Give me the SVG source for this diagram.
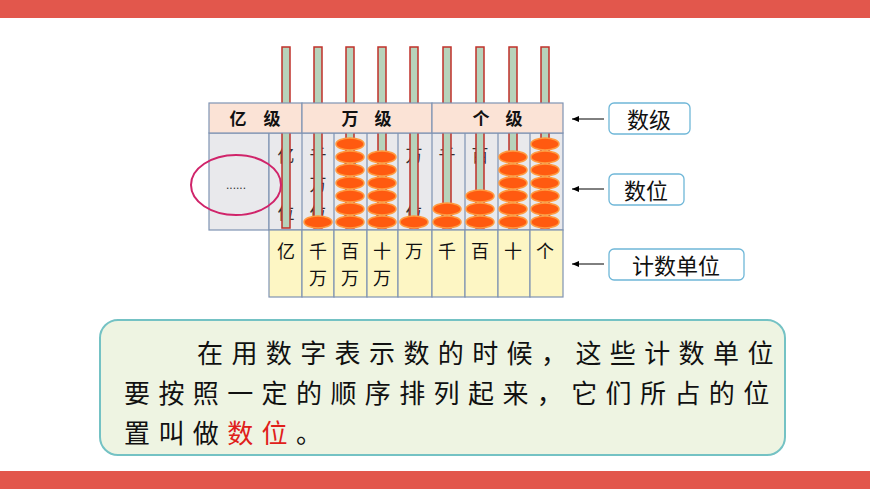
<svg xmlns="http://www.w3.org/2000/svg" width="870" height="489" viewBox="0 0 870 489">
<defs>
<style>
.hd{fill:#fbe3d6;stroke:#7f93b3;stroke-width:1.2}
.cell{fill:#e9e9ec;stroke:#7f93b3;stroke-width:1.2}
.yc{fill:#fdf6c4;stroke:#7f93b3;stroke-width:1.2}
.rod{fill:#b7d3bb;stroke:#c0302a;stroke-width:1.5}
.bead{fill:#ff5a10;stroke:#ff9a40;stroke-width:1.5}
.t{font-family:"Noto Sans CJK SC",sans-serif;fill:#111}
.ft{font-family:"Noto Sans CJK SC",sans-serif;fill:#333;font-size:17px;text-anchor:middle}
.lab{fill:#fff;stroke:#6fb7d8;stroke-width:1.3}
.ar{stroke:#000;stroke-width:1;marker-end:url(#ah)}
</style>
<marker id="ah" markerWidth="8" markerHeight="8" refX="7" refY="4" orient="auto" markerUnits="userSpaceOnUse"><path d="M0,1 L7,4 L0,7 Z" fill="#000"/></marker>
</defs>
<rect width="870" height="489" fill="#fff"/>
<rect x="0" y="0" width="870" height="18" fill="#e2574c"/>
<rect x="0" y="471" width="870" height="18" fill="#e2574c"/>
<g id="abacus">
<rect class="cell" x="209" y="133" width="60" height="97"/>
<rect class="cell" x="269" y="133" width="294" height="97"/>
<g fill="none" stroke="#7f93b3" stroke-width="1.2">
<path d="M302 133V230M334 133V230M367 133V230M398 133V230M432 133V230M465 133V230M498 133V230M530 133V230"/>
</g>
<g class="ft">
<text x="286" y="162">亿</text><text x="286" y="219">位</text>
<text x="318" y="162">千</text><text x="318" y="191">万</text><text x="318" y="219">位</text>
<text x="350" y="162">百</text><text x="350" y="219">位</text>
<text x="382" y="162">十</text><text x="382" y="219">位</text>
<text x="414" y="162">万</text><text x="414" y="219">位</text>
<text x="447" y="162">千</text><text x="447" y="219">位</text>
<text x="480" y="162">百</text><text x="480" y="219">位</text>
<text x="513" y="162">十</text><text x="513" y="219">位</text>
<text x="545" y="162">个</text><text x="545" y="219">位</text>
</g>
<g>
<rect class="rod" x="282" y="47" width="8" height="181"/>
<rect class="rod" x="314" y="47" width="8" height="181"/>
<rect class="rod" x="346" y="47" width="8" height="181"/>
<rect class="rod" x="378" y="47" width="8" height="181"/>
<rect class="rod" x="410" y="47" width="8" height="181"/>
<rect class="rod" x="443" y="47" width="8" height="181"/>
<rect class="rod" x="476" y="47" width="8" height="181"/>
<rect class="rod" x="509" y="47" width="8" height="181"/>
<rect class="rod" x="541" y="47" width="8" height="181"/>
</g>
<rect class="hd" x="209" y="103" width="93" height="30"/>
<rect class="hd" x="302" y="103" width="130" height="30"/>
<rect class="hd" x="432" y="103" width="131" height="30"/>
<g class="t" font-size="17" text-anchor="middle" font-weight="bold">
<text x="238" y="125">亿</text><text x="272" y="125">级</text>
<text x="350" y="125">万</text><text x="383" y="125">级</text>
<text x="481" y="125">个</text><text x="514" y="125">级</text>
</g>
<g>
<ellipse class="bead" cx="318" cy="222" rx="14" ry="6"/>
<ellipse class="bead" cx="350" cy="222" rx="14" ry="6"/><ellipse class="bead" cx="350" cy="209" rx="14" ry="6"/><ellipse class="bead" cx="350" cy="196" rx="14" ry="6"/><ellipse class="bead" cx="350" cy="183" rx="14" ry="6"/><ellipse class="bead" cx="350" cy="170" rx="14" ry="6"/><ellipse class="bead" cx="350" cy="157" rx="14" ry="6"/><ellipse class="bead" cx="350" cy="144" rx="14" ry="6"/>
<ellipse class="bead" cx="382" cy="222" rx="14" ry="6"/><ellipse class="bead" cx="382" cy="209" rx="14" ry="6"/><ellipse class="bead" cx="382" cy="196" rx="14" ry="6"/><ellipse class="bead" cx="382" cy="183" rx="14" ry="6"/><ellipse class="bead" cx="382" cy="170" rx="14" ry="6"/><ellipse class="bead" cx="382" cy="157" rx="14" ry="6"/>
<ellipse class="bead" cx="414" cy="222" rx="14" ry="6"/>
<ellipse class="bead" cx="447" cy="222" rx="14" ry="6"/><ellipse class="bead" cx="447" cy="209" rx="14" ry="6"/>
<ellipse class="bead" cx="480" cy="222" rx="14" ry="6"/><ellipse class="bead" cx="480" cy="209" rx="14" ry="6"/><ellipse class="bead" cx="480" cy="196" rx="14" ry="6"/>
<ellipse class="bead" cx="513" cy="222" rx="14" ry="6"/><ellipse class="bead" cx="513" cy="209" rx="14" ry="6"/><ellipse class="bead" cx="513" cy="196" rx="14" ry="6"/><ellipse class="bead" cx="513" cy="183" rx="14" ry="6"/><ellipse class="bead" cx="513" cy="170" rx="14" ry="6"/><ellipse class="bead" cx="513" cy="157" rx="14" ry="6"/>
<ellipse class="bead" cx="545" cy="222" rx="14" ry="6"/><ellipse class="bead" cx="545" cy="209" rx="14" ry="6"/><ellipse class="bead" cx="545" cy="196" rx="14" ry="6"/><ellipse class="bead" cx="545" cy="183" rx="14" ry="6"/><ellipse class="bead" cx="545" cy="170" rx="14" ry="6"/><ellipse class="bead" cx="545" cy="157" rx="14" ry="6"/><ellipse class="bead" cx="545" cy="144" rx="14" ry="6"/>
</g>
<g>
<rect class="yc" x="269" y="230" width="33" height="67"/><rect class="yc" x="302" y="230" width="32" height="67"/><rect class="yc" x="334" y="230" width="33" height="67"/><rect class="yc" x="367" y="230" width="31" height="67"/><rect class="yc" x="398" y="230" width="34" height="67"/><rect class="yc" x="432" y="230" width="33" height="67"/><rect class="yc" x="465" y="230" width="33" height="67"/><rect class="yc" x="498" y="230" width="32" height="67"/><rect class="yc" x="530" y="230" width="33" height="67"/>
</g>
<g class="t" font-size="18" text-anchor="middle">
<text x="286" y="258">亿</text>
<text x="318" y="258">千</text><text x="318" y="285">万</text>
<text x="350" y="258">百</text><text x="350" y="285">万</text>
<text x="382" y="258">十</text><text x="382" y="285">万</text>
<text x="414" y="258">万</text><text x="447" y="258">千</text><text x="480" y="258">百</text><text x="513" y="258">十</text><text x="545" y="258">个</text>
</g>
<ellipse cx="236" cy="185" rx="45" ry="30" fill="none" stroke="#d0246a" stroke-width="2"/>
<text x="236" y="189" font-family="Liberation Sans,sans-serif" font-size="12" text-anchor="middle" fill="#333">......</text>
</g>
<g id="connectors">
<line class="ar" x1="604" y1="119" x2="572" y2="119"/>
<line class="ar" x1="604" y1="189" x2="572" y2="189"/>
<line class="ar" x1="604" y1="264" x2="572" y2="264"/>
</g>
<g id="n-shuji"><rect class="lab" x="609" y="103" width="81" height="31" rx="5"/><text class="t" x="649" y="128" font-size="22" text-anchor="middle">数级</text></g>
<g id="n-shuwei"><rect class="lab" x="609" y="174" width="75" height="31" rx="5"/><text class="t" x="646" y="199" font-size="22" text-anchor="middle">数位</text></g>
<g id="n-jishu"><rect class="lab" x="609" y="249" width="135" height="31" rx="5"/><text class="t" x="676" y="274" font-size="22" text-anchor="middle">计数单位</text></g>
<g id="textbox">
<rect x="100" y="320" width="685" height="135" rx="18" fill="#eef4e2" stroke="#74c2c4" stroke-width="2"/>
<g class="t" font-size="26" letter-spacing="8.4">
<text x="197" y="363">在用数字表示数的时候，这些计数单位</text>
<text x="124" y="403">要按照一定的顺序排列起来，它们所占的位</text>
<text x="124" y="443">置叫做<tspan fill="#e0201a">数位</tspan>。</text>
</g>
</g>
</svg>
